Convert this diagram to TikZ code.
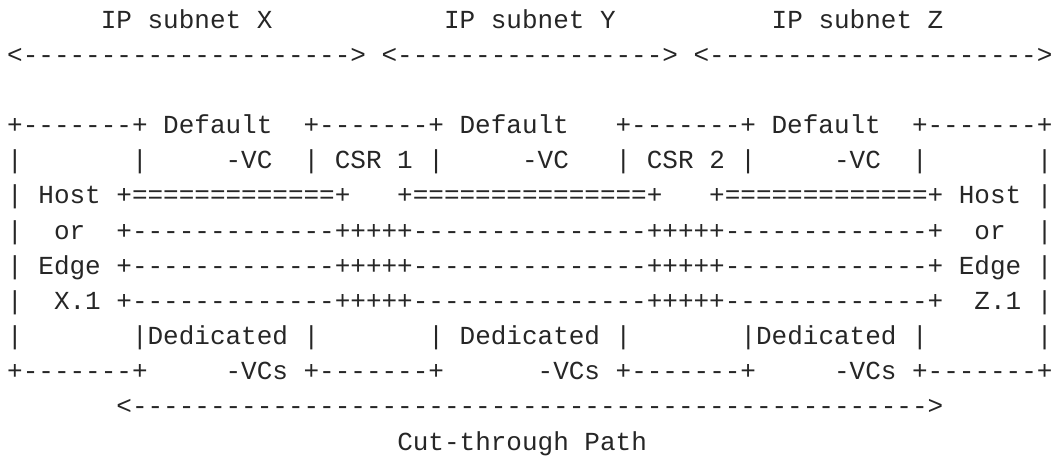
\documentclass[tikz,border=0pt]{standalone}
\usepackage{fontspec}
\setmonofont{Liberation Mono}
\definecolor{ink}{HTML}{262626}
\tikzset{
  asciiline/.style={anchor=base west, inner sep=0pt, outer sep=0pt,
    font=\ttfamily\fontsize{26}{31}\selectfont, text=ink},
}
% column c starts at 7.2pt + c * 15.602pt; row r has its baseline 28.25pt + r * 35.15pt below the top
\newcommand\cx[1]{7.2pt+#1*15.602pt}
\newcommand\ry[1]{457pt-28.25pt-#1*35.15pt}
% runs of ten dashes / equals signs
\newcommand\dten{----------}
\newcommand\eten{==========}
\begin{document}
\begin{tikzpicture}[x=1pt,y=1pt]
\useasboundingbox[fill=white] (0,0) rectangle (1056,457);
\node[asciiline] (l0) at ({\cx{6}},{\ry{0}}) {IP~subnet~X~~~~~~~~~~~IP~subnet~Y~~~~~~~~~~IP~subnet~Z};
\node[asciiline] (l1) at ({\cx{0}},{\ry{1}}) {<\dten\dten{-}>~<\dten{-------}>~<\dten\dten{-}>};
\node[asciiline] (l3) at ({\cx{0}},{\ry{3}}) {+-------+~Default~~+-------+~Default~~~+-------+~Default~~+-------+};
\node[asciiline] (l4) at ({\cx{0}},{\ry{4}}) {|~~~~~~~|~~~~~-VC~~|~CSR~1~|~~~~~-VC~~~|~CSR~2~|~~~~~-VC~~|~~~~~~~|};
\node[asciiline] (l5) at ({\cx{0}},{\ry{5}}) {|~Host~+\eten{===}+~~~+\eten{=====}+~~~+\eten{===}+~Host~|};
\node[asciiline] (l6) at ({\cx{0}},{\ry{6}}) {|~~or~~+\dten{---}+++++\dten{-----}+++++\dten{---}+~~or~~|};
\node[asciiline] (l7) at ({\cx{0}},{\ry{7}}) {|~Edge~+\dten{---}+++++\dten{-----}+++++\dten{---}+~Edge~|};
\node[asciiline] (l8) at ({\cx{0}},{\ry{8}}) {|~~X.1~+\dten{---}+++++\dten{-----}+++++\dten{---}+~~Z.1~|};
\node[asciiline] (l9) at ({\cx{0}},{\ry{9}}) {|~~~~~~~|Dedicated~|~~~~~~~|~Dedicated~|~~~~~~~|Dedicated~|~~~~~~~|};
\node[asciiline] (l10) at ({\cx{0}},{\ry{10}}) {+-------+~~~~~-VCs~+-------+~~~~~~-VCs~+-------+~~~~~-VCs~+-------+};
\node[asciiline] (l11) at ({\cx{7}},{\ry{11}}) {<\dten\dten\dten\dten\dten{-}>};
\node[asciiline] (l12) at ({\cx{25}},{\ry{12}}) {Cut-through~Path};
\end{tikzpicture}
\end{document}
